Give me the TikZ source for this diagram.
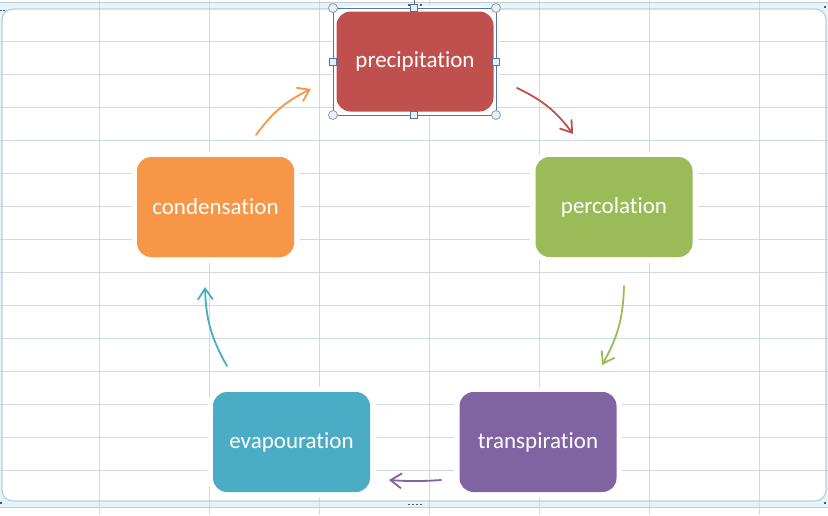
\documentclass[tikz,border=0pt]{standalone}
\usepackage{fontspec}
\setmainfont{Carlito}[Ligatures={NoCommon}]
\usetikzlibrary{arrows.meta}
\definecolor{cPrec}{HTML}{C0504D}
\definecolor{cPerc}{HTML}{9BBB59}
\definecolor{cTran}{HTML}{8064A2}
\definecolor{cEvap}{HTML}{4BACC6}
\definecolor{cCond}{HTML}{F79646}
\definecolor{gridc}{HTML}{D0D7E5}
\definecolor{bandc}{HTML}{E2F6F9}
\definecolor{framec}{HTML}{C3CBD3}
\definecolor{selc}{HTML}{56779B}
\definecolor{handlef}{HTML}{E4F1FA}
\begin{document}
\begin{tikzpicture}[x=1pt,y=-1pt,
  box/.style={rectangle, rounded corners=14pt, minimum width=157pt, minimum height=100pt,
    inner sep=0pt, text=white, font=\fontsize{23}{27}\selectfont,
    preaction={draw=white, line width=11pt}},
  flow/.style={line width=1.8pt, line cap=round, -{Straight Barb[length=11pt,width=15pt]}},
  gridline/.style={draw=gridc, line width=1pt},
  handlesq/.style={draw=selc, fill=handlef, line width=0.8pt},
  handlecirc/.style={draw=gray!80, fill=handlef, line width=0.8pt}]
\useasboundingbox (0,0) rectangle (828,515);
\fill[white] (0,0) rectangle (828,515);
% frame band
\fill[bandc] (0,2.5) rectangle (828,507);
\fill[white, rounded corners=11pt] (2,9) rectangle (826,501);
% grid
\foreach \x in {99.5,209.5,319.5,429.5,539.5,649.5,759.5}
  \draw[gridline] (\x,0) -- (\x,515);
\foreach \y in {41,74,107,140,173,206,239,272,305,338,371,404,437,470}
  \draw[gridline] (0,\y) -- (828,\y);
% frame strokes
\draw[framec, line width=0.8pt] (0,2.5) -- (828,2.5);
\draw[framec, line width=0.8pt] (0,507) -- (828,507);
\draw[framec, line width=1.2pt, rounded corners=11pt] (2,9) rectangle (826,501);
% frame handle dots
\foreach \x in {408,412,416,420} {
  \fill[gray!70!black] (\x,4) rectangle ++(1.6,1.6);
  \fill[gray!70!black] (\x,503.5) rectangle ++(1.6,1.6);
}
\fill[gray!70!black] (824,6) rectangle ++(2,2);
\fill[gray!70!black] (824,502) rectangle ++(2,2);
\fill[gray!70!black] (0,9.5) rectangle ++(1.6,1.6);
\fill[gray!70!black] (3,9.5) rectangle ++(1.6,1.6);
\fill[gray!70!black] (0,502) rectangle ++(1.6,1.6);
% boxes
\node[box, fill=cPrec] (prec) at (415,61.5) {precipitation};
\node[box, fill=cPerc] (perc) at (614,207) {percolation};
\node[box, fill=cTran] (tran) at (538,442) {transpiration};
\node[box, fill=cEvap] (evap) at (291.5,442) {evapouration};
\node[box, fill=cCond] (cond) at (215.5,207) {condensation};
% arrows
\coordinate (a1s) at (256,135); \coordinate (a1e) at (311,89);
\coordinate (a2s) at (517,88);  \coordinate (a2e) at (573,134);
\coordinate (a3s) at (624,286); \coordinate (a3e) at (602,365);
\coordinate (a4s) at (441,480); \coordinate (a4e) at (389,480);
\coordinate (a5s) at (227,366); \coordinate (a5e) at (205,287);
\draw[flow, cCond] (a1s) to[bend left=14] (a1e);
\draw[flow, cPrec] (a2s) to[bend left=14] (a2e);
\draw[flow, cPerc] (a3s) to[bend left=14] (a3e);
\draw[flow, cTran] (a4s) to[bend left=4] (a4e);
\draw[flow, cEvap] (a5s) to[bend left=14] (a5e);
% selection frame around precipitation
\draw[selc, line width=0.9pt] (414,0) -- (414,8);
\draw[selc, line width=0.9pt] (333,8) rectangle (496,115);
\foreach \p in {(333,8),(496,8),(333,115),(496,115)}
  \draw[handlecirc] \p circle (4.5);
\foreach \p in {(414,8),(414,115),(333,61.5),(496,61.5)}
  \draw[handlesq] \p ++(-3.5,-3.5) rectangle ++(7,7);
\end{tikzpicture}
\end{document}
